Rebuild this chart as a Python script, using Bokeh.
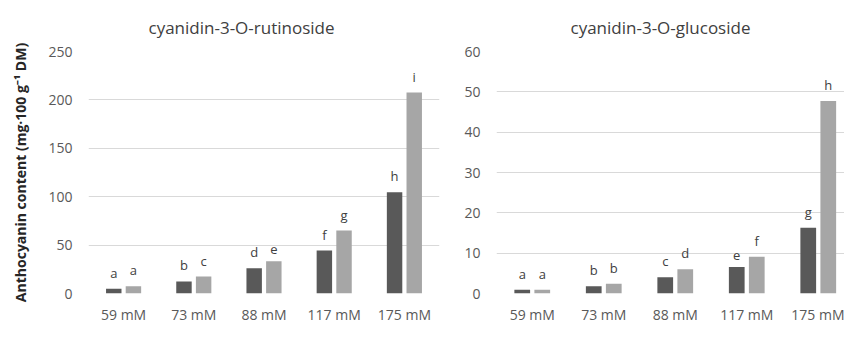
from bokeh.plotting import figure
from bokeh.models import ColumnDataSource, Legend, LegendItem, FixedTicker, Range1d
from bokeh.layouts import row
from bokeh.transform import dodge
from bokeh.core.properties import value
from bokeh.embed import file_html
from bokeh.resources import INLINE

categories = ["59 mM", "73 mM", "88 mM", "117 mM", "175 mM"]
series_names = ["BAP", "mT"]

rut_bap = [5.0, 12.4, 26.0, 44.4, 104.6]
rut_mt = [7.5, 17.5, 33.4, 65.0, 207.6]
rut_bap_letters = ["a", "b", "d", "f", "h"]
rut_mt_letters = ["a", "c", "e", "g", "i"]

glu_bap = [0.9, 1.8, 4.0, 6.6, 16.3]
glu_mt = [0.9, 2.4, 6.0, 9.1, 47.7]
glu_bap_letters = ["a", "b", "c", "e", "g"]
glu_mt_letters = ["a", "b", "d", "f", "h"]

rut_ticks = [0, 50, 100, 150, 200, 250]
glu_ticks = [0, 10, 20, 30, 40, 50, 60]

FONT = "Open Sans"
DARK = "#595959"
LIGHT = "#a6a6a6"
TXT = "#595959"


def make(title, bap, mt, bl, ml, yticks, fw, min_left, min_right, x_end, ylabel,
         title_offset, legend_x):
    src = ColumnDataSource(dict(x=list(range(len(categories))), bap=bap, mt=mt, bl=bl, ml=ml))
    p = figure(frame_width=fw, frame_height=242, x_range=Range1d(-0.5, x_end),
               y_range=Range1d(yticks[0], yticks[-1]),
               output_backend="svg", toolbar_location=None,
               min_border_left=min_left, min_border_right=min_right,
               min_border_top=51, min_border_bottom=62)
    p.outline_line_color = None
    p.background_fill_color = "white"
    p.border_fill_color = "white"

    r1 = p.vbar(x=dodge("x", -0.14, range=p.x_range), top="bap", width=0.22, source=src,
                fill_color=DARK, line_color=None)
    r2 = p.vbar(x=dodge("x", 0.14, range=p.x_range), top="mt", width=0.22, source=src,
                fill_color=LIGHT, line_color=None)
    p.text(x=dodge("x", -0.14, range=p.x_range), y="bap", text="bl", source=src,
           text_align="center", text_baseline="bottom", y_offset=-7,
           text_font=value(FONT), text_font_size="13px", text_color="#404040")
    p.text(x=dodge("x", 0.14, range=p.x_range), y="mt", text="ml", source=src,
           text_align="center", text_baseline="bottom", y_offset=-7,
           text_font=value(FONT), text_font_size="13px", text_color="#404040")

    p.title.text = title
    p.title.align = "left"
    p.title.offset = title_offset
    p.title.standoff = 26
    p.title.text_font = FONT
    p.title.text_font_size = "17px"
    p.title.text_font_style = "normal"
    p.title.text_color = "#404040"

    p.xaxis.ticker = FixedTicker(ticks=list(range(len(categories))))
    p.xaxis.major_label_overrides = {i: c for i, c in enumerate(categories)}
    p.yaxis.ticker = FixedTicker(ticks=yticks)
    for ax in (p.xaxis[0], p.yaxis[0]):
        ax.axis_line_color = None
        ax.major_tick_line_color = None
        ax.minor_tick_line_color = None
        ax.major_tick_out = 0
        ax.major_tick_in = 0
        ax.minor_tick_out = 0
        ax.minor_tick_in = 0
        ax.major_label_text_font = FONT
        ax.major_label_text_font_size = "14px"
        ax.major_label_text_color = TXT
    p.xaxis.major_label_standoff = 11
    p.yaxis.major_label_standoff = 16
    if ylabel:
        p.yaxis.axis_label = ylabel
        p.yaxis.axis_label_text_font = FONT
        p.yaxis.axis_label_text_font_size = "14px"
        p.yaxis.axis_label_text_font_style = "bold"
        p.yaxis.axis_label_text_color = "#262626"
        p.yaxis.axis_label_standoff = 15

    p.xgrid.grid_line_color = None
    p.ygrid.grid_line_color = "#d9d9d9"
    p.ygrid.grid_line_width = 1

    legend = Legend(items=[LegendItem(label=series_names[0], renderers=[r1]),
                           LegendItem(label=series_names[1], renderers=[r2])],
                    orientation="horizontal", location=(legend_x, -60),
                    glyph_width=10, glyph_height=10, label_standoff=5, spacing=10,
                    padding=0, margin=0, border_line_color=None,
                    background_fill_alpha=0,
                    label_text_font=FONT, label_text_font_size="14px",
                    label_text_color=TXT)
    p.add_layout(legend, "center")
    return p


p1 = make("cyanidin-3-O-rutinoside", rut_bap, rut_mt, rut_bap_letters, rut_mt_letters,
          rut_ticks, 351, 88, 5, 4.5, "Anthocyanin content (mg·100 g⁻¹ DM)", 60, 115)
p2 = make("cyanidin-3-O-glucoside", glu_bap, glu_mt, glu_bap_letters, glu_mt_letters,
          glu_ticks, 348, 52, 0, 4.367, None, 74, 126)

layout = row(p1, p2)
open("out.html", "w").write(file_html(layout, INLINE))
